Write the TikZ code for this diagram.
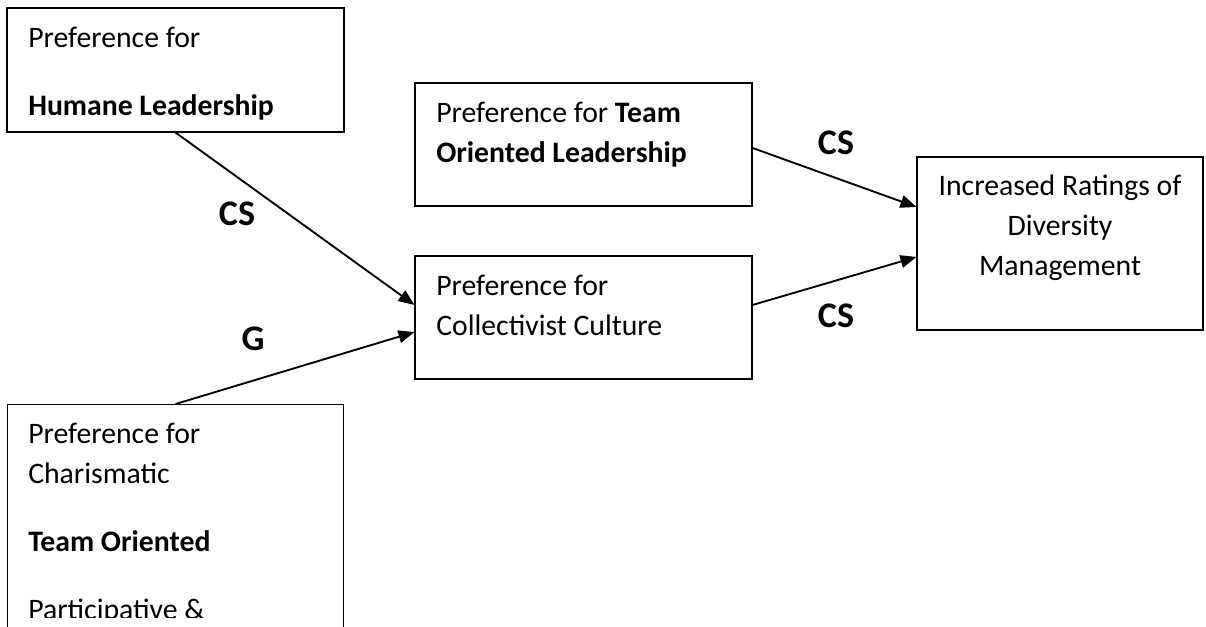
\documentclass[tikz,border=0pt]{standalone}
\usepackage{fontspec}
\setmainfont{Carlito}
\usetikzlibrary{arrows.meta}

\tikzset{
  box/.style={draw, line width=0.8pt, inner sep=0pt},
  boxtext/.style={anchor=base west, align=left, inner sep=0pt, font=\fontsize{22.3}{30}\selectfont},
  link/.style={line width=1.4pt, -{Triangle[length=12pt,width=9.5pt]}},
  tag/.style={font=\fontsize{27}{30}\selectfont\bfseries}
}

\begin{document}
\begin{tikzpicture}[x=0.75pt,y=-0.75pt]
  \useasboundingbox (0,0) rectangle (1206,626);
  \clip (0,0) rectangle (1206,626);
  % Humane leadership
  \node[box, minimum width=252.75pt, minimum height=93pt] (humane) at (175.5,70) {};
  \node[boxtext] (humanetxt) at (28,115) {Preference for\\[21pt]\textbf{Humane Leadership}};
  % Team oriented leadership
  \node[box, minimum width=252.75pt, minimum height=92.25pt] (team) at (583.5,144.5) {};
  \node[boxtext] (teamtxt) at (436,162) {Preference for \textbf{Team}\\\textbf{Oriented Leadership}};
  % Collectivist culture
  \node[box, minimum width=252.75pt, minimum height=92.25pt] (coll) at (583.5,317.5) {};
  \node[boxtext] (colltxt) at (436,335) {Preference for\\Collectivist Culture};
  % Diversity management
  \node[box, minimum width=214.5pt, minimum height=129.75pt] (ratings) at (1060,243.5) {};
  \node[boxtext, anchor=base, align=center] (ratingstxt) at (1060,275) {Increased Ratings of\\Diversity\\Management};
  % Charismatic / team oriented
  \node[box, anchor=north west, minimum width=252pt, minimum height=225pt] (charis) at (7,404) {};
  \begin{scope}
    \clip (0,0) rectangle (1206,617);
    \node[boxtext] (charistxt) at (28,619) {Preference for\\Charismatic\\[21pt]\textbf{Team Oriented}\\[21pt]Participative \&};
  \end{scope}

  % Links
  \draw[link] (humane.south) -- ([yshift=9.4pt]coll.west);
  \draw[link] (charis.north) -- ([yshift=-10.9pt]coll.west);
  \draw[link] ([yshift=-2.6pt]team.east) -- ([yshift=27.4pt]ratings.west);
  \draw[link] ([yshift=9.4pt]coll.east) -- ([yshift=-10.1pt]ratings.west);

  \node[tag] (cslead) at (237,214) {CS};
  \node[tag] (gchar) at (253,339) {G};
  \node[tag] (csteam) at (836,143) {CS};
  \node[tag] (cscoll) at (836,316) {CS};
\end{tikzpicture}
\end{document}
